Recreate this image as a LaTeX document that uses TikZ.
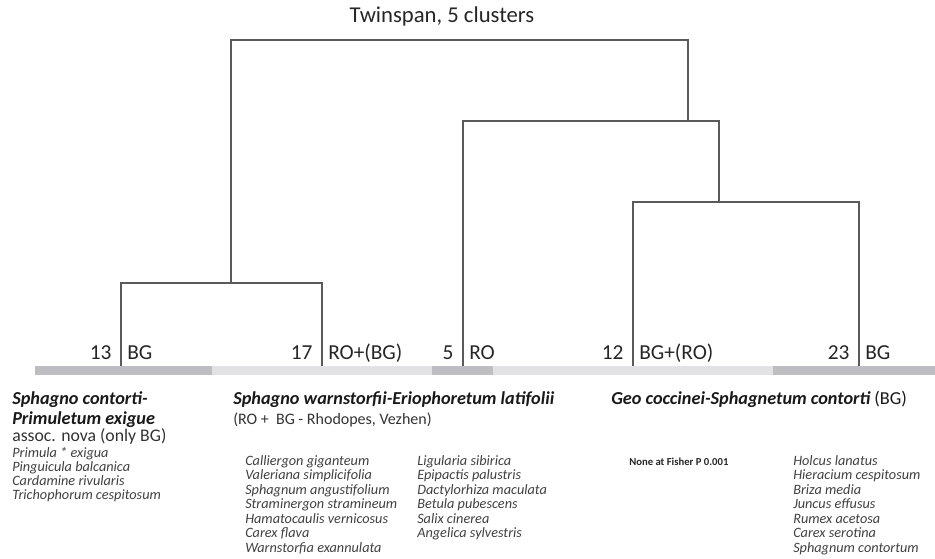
\documentclass[tikz,border=0pt]{standalone}
\usepackage{fontspec}
\setmainfont{Carlito}
\usetikzlibrary{positioning}
\definecolor{barDark}{RGB}{190,190,194}
\definecolor{barLight}{RGB}{226,226,229}
\definecolor{lineGray}{RGB}{90,90,90}
\definecolor{textGray}{RGB}{64,64,64}
\begin{document}
\begin{tikzpicture}[x=0.75pt,y=-0.75pt,
    branch/.style={draw=lineGray, line width=1pt},
    count/.style={inner sep=0pt, anchor=base east, text=black!85, font=\fontsize{16}{19}\selectfont},
    origin/.style={inner sep=0pt, anchor=base west, text=black!85, font=\fontsize{16}{19}\selectfont},
    heading/.style={inner sep=0pt, anchor=base west, text=black!90, font=\fontsize{13.7}{16}\selectfont\bfseries\itshape},
    subhead/.style={inner sep=0pt, anchor=base west, text=black!80, font=\fontsize{12}{14}\selectfont},
    species/.style={inner sep=0pt, anchor=base west, text=textGray, font=\fontsize{10.7}{12}\selectfont\itshape}]
    \useasboundingbox (0,0) rectangle (935,558);

    % Cluster bar
    \fill[barDark] (35,366) rectangle (212,375);
    \fill[barLight] (212,366) rectangle (432,375);
    \fill[barDark] (432,366) rectangle (493,375);
    \fill[barLight] (493,366) rectangle (773,375);
    \fill[barDark] (773,366) rectangle (935,375);

    % Leaves and junctions
    \coordinate (c1) at (121,366);
    \coordinate (c2) at (322,366);
    \coordinate (c3) at (463,366);
    \coordinate (c4) at (633,366);
    \coordinate (c5) at (859,366);
    \coordinate (j12) at (231,283);
    \coordinate (j45) at (719,202);
    \coordinate (j345) at (688,121);
    \coordinate (root) at (442,40);

    % Branches
    \draw[branch] (c1) |- (j12) -| (c2);
    \draw[branch] (c4) |- (j45) -| (c5);
    \draw[branch] (c3) |- (j345) -| (j45);
    \draw[branch] (j12) |- (root) -| (j345);

    % Title
    \node (title) at (442,16) [text=black!85, font=\fontsize{17}{20}\selectfont] {Twinspan, 5 clusters};

    % Cluster labels
    \node (n1) [count] at ([xshift=-7pt,yshift=5pt]c1) {13};
    \node (o1) [origin] at ([xshift=4.5pt,yshift=5pt]c1) {BG};
    \node (n2) [count] at ([xshift=-7pt,yshift=5pt]c2) {17};
    \node (o2) [origin] at ([xshift=4.5pt,yshift=5pt]c2) {RO+(BG)};
    \node (n3) [count] at ([xshift=-7pt,yshift=5pt]c3) {5};
    \node (o3) [origin] at ([xshift=4.5pt,yshift=5pt]c3) {RO};
    \node (n4) [count] at ([xshift=-7pt,yshift=5pt]c4) {12};
    \node (o4) [origin] at ([xshift=4.5pt,yshift=5pt]c4) {BG+(RO)};
    \node (n5) [count] at ([xshift=-7pt,yshift=5pt]c5) {23};
    \node (o5) [origin] at ([xshift=4.5pt,yshift=5pt]c5) {BG};

    % Associations
    \node (h1) [heading] at (12,404) {Sphagno contorti-};
    \node (h1b) [heading] at (12,424) {Primuletum exigue};
    \node (s1) [subhead, font=\fontsize{13.3}{15}\selectfont] at (12,441) {assoc. nova (only BG)};
    \node (h2) [heading] at (233,404) {Sphagno warnstorfii-Eriophoretum latifolii};
    \node (s2) [subhead] at (233,424) {(RO +\ \ BG - Rhodopes, Vezhen)};
    \node (h3) [heading] at (611,404) {Geo coccinei-Sphagnetum contorti \normalfont(BG)};

    % Species lists
    \foreach \sp [count=\i] in {Primula * exigua, Pinguicula balcanica, Cardamine rivularis, Trichophorum cespitosum}
        \node (spa\i) [species] at (12,{457+14*(\i-1)}) {\sp};
    \foreach \sp [count=\i] in {Calliergon giganteum, Valeriana simplicifolia, Sphagnum angustifolium, Straminergon stramineum, Hamatocaulis vernicosus, Carex flava, Warnstorfia exannulata}
        \node (spb\i) [species] at (245,{465+14.5*(\i-1)}) {\sp};
    \foreach \sp [count=\i] in {Ligularia sibirica, Epipactis palustris, Dactylorhiza maculata, Betula pubescens, Salix cinerea, Angelica sylvestris}
        \node (spc\i) [species] at (417,{465+14.5*(\i-1)}) {\sp};
    \node (none) [species, font=\fontsize{8}{10}\selectfont\bfseries, text=black!85] at (629,465) {None at Fisher P 0.001};
    \foreach \sp [count=\i] in {Holcus lanatus, Hieracium cespitosum, Briza media, Juncus effusus, Rumex acetosa, Carex serotina, Sphagnum contortum}
        \node (spd\i) [species] at (793,{465+14.5*(\i-1)}) {\sp};
\end{tikzpicture}
\end{document}
